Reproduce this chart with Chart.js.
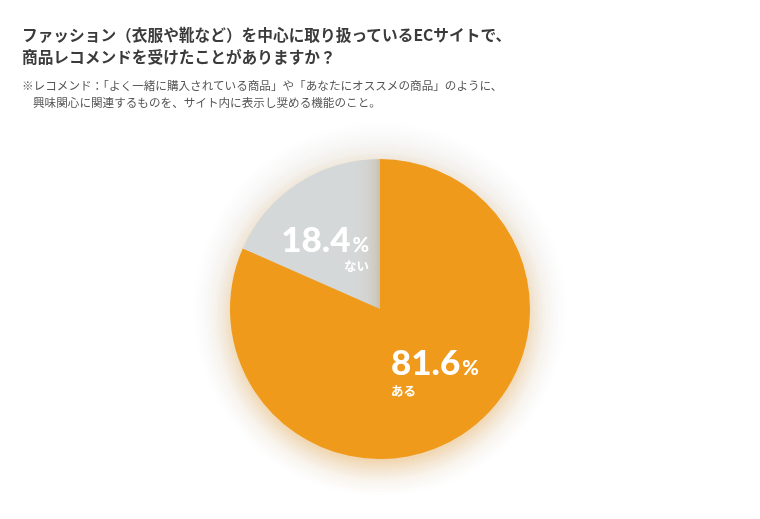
<!DOCTYPE html>
<html><head><meta charset="utf-8">
<script src="https://cdn.jsdelivr.net/npm/chart.js@4"></script>
<style>
html,body{margin:0;padding:0;background:#fff;}
#wrap{position:relative;width:760px;height:519px;overflow:hidden;}
#c{position:absolute;left:0;top:0;}
.t{position:absolute;left:22px;font-family:"Noto Sans CJK JP","Noto Sans",sans-serif;font-weight:700;font-size:15.7px;color:#3b3b3b;white-space:nowrap;line-height:22px;}
.n{position:absolute;font-family:"Noto Sans CJK JP","Noto Sans",sans-serif;font-size:11.6px;color:#555;white-space:nowrap;line-height:17px;}
</style></head><body>
<div id="wrap">
<canvas id="c" width="760" height="519"></canvas>
<div class="t" style="top:24px;">ファッション（衣服や靴など）を中心に取り扱っているECサイトで、</div>
<div class="t" style="top:46px;">商品レコメンドを受けたことがありますか？</div>
<div class="n" style="top:77px;left:22px;">※レコメンド：「よく一緒に購入されている商品」や「あなたにオススメの商品」のように、</div>
<div class="n" style="top:94px;left:33px;">興味関心に関連するものを、サイト内に表示し奨める機能のこと。</div>
</div>
<script>
const categories = ["ある", "ない"];
const values = [81.6, 18.4];
const valueLabels = ["81.6", "18.4"];
const colors = ["#ef9a1a", "#d5d8d8"];

function sliceFill(context) {
  if (context.dataIndex !== 1) return colors[0];
  const chart = context.chart;
  const area = chart.chartArea;
  if (!area) return colors[1];
  const cx = (area.left + area.right) / 2;
  const g = chart.ctx.createLinearGradient(cx - 26, 0, cx, 0);
  g.addColorStop(0, colors[1]);
  g.addColorStop(0.5, '#d3d4d1');
  g.addColorStop(0.85, '#cdc9c0');
  g.addColorStop(1, '#c8bfae');
  return g;
}

const glowPlugin = {
  id: 'glow',
  beforeDatasetsDraw(chart) {
    const arc = chart.getDatasetMeta(0).data[0];
    if (!arc) return;
    const ctx = chart.ctx, x = arc.x, y = arc.y, r = arc.outerRadius;
    ctx.save();
    const g = ctx.createRadialGradient(x, y, r, x, y, r + 38);
    g.addColorStop(0, 'rgba(120,110,100,0.11)');
    g.addColorStop(0.5, 'rgba(120,110,100,0.05)');
    g.addColorStop(1, 'rgba(120,110,100,0)');
    ctx.fillStyle = g;
    ctx.beginPath(); ctx.arc(x, y, r + 38, 0, Math.PI * 2); ctx.fill();
    ctx.shadowColor = 'rgba(239,154,26,0.45)';
    ctx.shadowBlur = 28;
    ctx.shadowOffsetY = 9;
    ctx.fillStyle = '#ef9a1a';
    ctx.beginPath(); ctx.arc(x, y, r - 2, 0, Math.PI * 2); ctx.fill();
    ctx.restore();
  }
};

const labelPlugin = {
  id: 'sliceLabels',
  afterDatasetsDraw(chart) {
    const meta = chart.getDatasetMeta(0);
    const ctx = chart.ctx;
    const a0 = meta.data[0];
    const cx = a0.x, cy = a0.y;
    const bigFont = '900 35px Lato, "Open Sans", sans-serif';
    const pctFont = '900 20px Lato, "Open Sans", sans-serif';
    const smallFont = '700 12.5px "Noto Sans CJK JP", sans-serif';
    ctx.save();
    ctx.fillStyle = '#ffffff';
    ctx.textBaseline = 'alphabetic';
    {
      const lx = cx + 11, by = cy + 66;
      ctx.font = bigFont; ctx.textAlign = 'left';
      ctx.fillText(valueLabels[0], lx, by);
      const w = ctx.measureText(valueLabels[0]).width;
      ctx.font = pctFont; ctx.fillText('%', lx + w + 2, by);
      ctx.font = smallFont; ctx.fillText(categories[0], lx, cy + 87);
    }
    {
      const rx = cx - 11, by = cy - 57;
      ctx.font = pctFont; const wp = ctx.measureText('%').width;
      ctx.textAlign = 'right';
      ctx.fillText('%', rx, by);
      ctx.font = bigFont;
      ctx.fillText(valueLabels[1], rx - wp - 2, by);
      ctx.font = smallFont; ctx.fillText(categories[1], rx, cy - 38);
    }
    ctx.restore();
  }
};

new Chart(document.getElementById('c'), {
  type: 'pie',
  data: {
    labels: categories,
    datasets: [{
      data: values,
      backgroundColor: sliceFill,
      borderWidth: 0
    }]
  },
  options: {
    responsive: false,
    animation: false,
    layout: { padding: { top: 159, bottom: 60, left: 0, right: 0 } },
    plugins: { legend: { display: false }, tooltip: { enabled: false } }
  },
  plugins: [glowPlugin, labelPlugin]
});
</script>
</body></html>
